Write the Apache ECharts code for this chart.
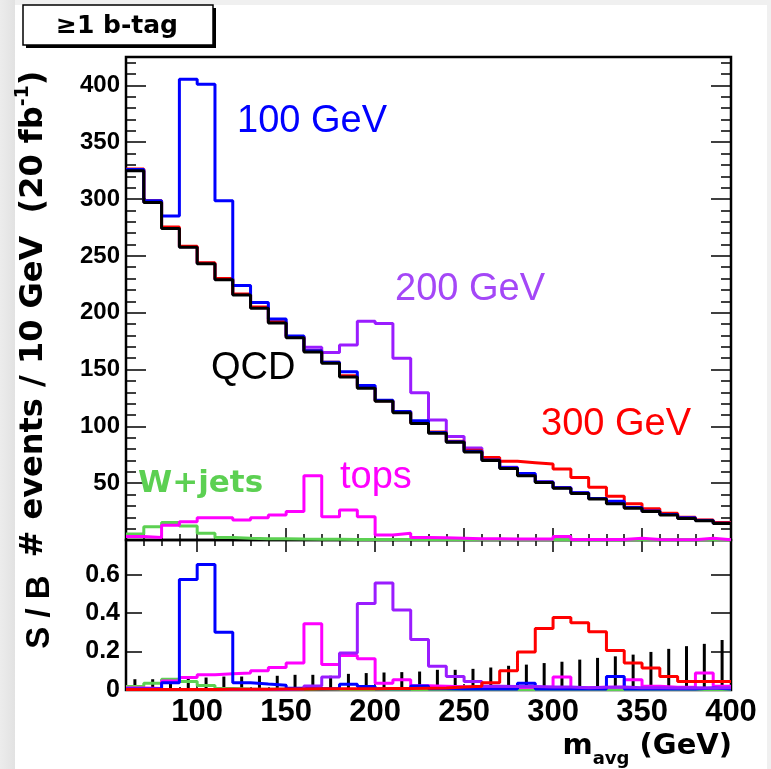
<html>
<head>
<meta charset="utf-8">
<script src="https://cdn.jsdelivr.net/npm/echarts@6/dist/echarts.min.js"></script>
</head>
<body style="margin:0;background:#e6e6e6">
    <div id="main" style="width:771px;height:769px;"></div>
</body>
<script>
    // bins of 10 GeV, 60 - 400
    var binLow = [60, 70, 80, 90, 100, 110, 120, 130, 140, 150, 160, 170, 180, 190, 200, 210, 220,
        230, 240, 250, 260, 270, 280, 290, 300, 310, 320, 330, 340, 350, 360, 370, 380, 390];
    var binCenter = [65, 75, 85, 95, 105, 115, 125, 135, 145, 155, 165, 175, 185, 195, 205, 215, 225,
        235, 245, 255, 265, 275, 285, 295, 305, 315, 325, 335, 345, 355, 365, 375, 385, 395];

    // top panel: events / 10 GeV
    var qcd = [325, 297, 274, 257.5, 243, 229, 215.5, 204, 191, 178, 165.5, 155.5, 143.5, 133.5, 122, 112, 102.5,
        94, 86, 77.5, 70, 63, 56.5, 50.5, 45.5, 41, 36, 32, 28, 25, 22, 19, 17, 14.5];
    var qcd100 = [326, 298.5, 285, 405.5, 401, 298.5, 224, 209, 194.5, 179.5, 166.5, 156.5, 148, 136, 123, 113, 105,
        94.5, 86.5, 78, 70.5, 63.5, 58.5, 51, 46, 41.5, 36.5, 34.2, 28.5, 25.5, 22.5, 19.5, 17.2, 14.7];
    var qcd200 = [325.3, 297.3, 274.5, 258, 243.5, 229.5, 216, 204.5, 191.5, 178.5, 169.5, 165, 171.5, 192.5, 190.5, 160, 129.5,
        105.5, 91, 81, 71, 64, 57.5, 51.3, 46.2, 41.6, 36.6, 32.5, 28.5, 25.4, 22.4, 19.4, 17.3, 14.8];
    var qcd300 = [326.5, 298.5, 275.5, 258.5, 244, 230, 216.5, 205, 192, 179, 166.5, 156.5, 144.5, 134.5, 122.5, 113, 103.5,
        95, 87, 79, 72.7, 69.2, 68, 66.8, 62.4, 55.1, 46.5, 38.5, 32, 27.6, 23.5, 20, 17.7, 15.3];
    var tops = [3, 2.3, 13, 16, 19.5, 19.5, 17.5, 19.5, 22, 25, 56.5, 20.5, 26.5, 20.5, 4.5, 6, 2.3,
        2, 1.5, 1, 1, 0.8, 0.8, 0.8, 3, 0.5, 0.5, 0.5, 1.5, 0.5, 0.3, 0.3, 1.5, 0.3];
    var wjets = [5.3, 11.7, 15.5, 12.3, 6, 2.3, 1.5, 1.2, 1, 0.8, 0.7, 0.6, 0.5, 0.5, 0.4, 0.4, 0.3,
        0.3, 0.3, 0.2, 0.2, 0.2, 0.2, 0.2, 0.1, 0.1, 0.1, 0.1, 0.1, 0.1, 0.1, 0.1, 0.1, 0.1];

    // bottom panel: S / B
    var sb100 = [0.005, 0.005, 0.038, 0.574, 0.653, 0.30, 0.038, 0.031, 0.025, 0.009, 0.006, 0.006, 0.03, 0.018, 0.006, 0.006, 0.021,
        0.006, 0.005, 0.005, 0.005, 0.005, 0.035, 0.005, 0.005, 0.005, 0.005, 0.07, 0.005, 0.005, 0.005, 0.005, 0.01, 0.005];
    var sb200 = [0.003, 0.003, 0.003, 0.003, 0.003, 0.003, 0.003, 0.003, 0.003, 0.005, 0.021, 0.067, 0.193, 0.45, 0.556, 0.416, 0.263,
        0.123, 0.07, 0.044, 0.02, 0.018, 0.018, 0.016, 0.016, 0.012, 0.014, 0.016, 0.012, 0.012, 0.01, 0.012, 0.01, 0.012];
    var sb300 = [0.002, 0.002, 0.003, 0.003, 0.003, 0.004, 0.004, 0.004, 0.005, 0.005, 0.006, 0.006, 0.007, 0.007, 0.008, 0.008, 0.009,
        0.01, 0.015, 0.02, 0.038, 0.1, 0.197, 0.32, 0.377, 0.35, 0.303, 0.205, 0.14, 0.114, 0.07, 0.044, 0.044, 0.044];
    var sbTops = [0.01, 0.008, 0.047, 0.065, 0.079, 0.084, 0.088, 0.1, 0.117, 0.14, 0.345, 0.132, 0.18, 0.163, 0.035, 0.053, 0.022,
        0.02, 0.017, 0.013, 0.014, 0.013, 0.014, 0.016, 0.067, 0.012, 0.014, 0.016, 0.053, 0.02, 0.014, 0.016, 0.088, 0.02];
    var sbW = [0.018, 0.035, 0.056, 0.044, 0.023, 0.008, 0.005, 0.004, 0.004, 0.004, 0.004, 0.003, 0.003, 0.003, 0.003, 0.003, 0.003,
        0.003, 0.003, 0.003, 0.003, 0.003, 0.003, 0.003, 0.003, 0.003, 0.003, 0.003, 0.003, 0.003, 0.003, 0.003, 0.003, 0.003];
    var sbErr = [0.056, 0.056, 0.06, 0.07, 0.065, 0.07, 0.07, 0.074, 0.074, 0.079, 0.079, 0.074, 0.084, 0.088, 0.091, 0.093, 0.096,
        0.105, 0.105, 0.11, 0.117, 0.126, 0.132, 0.14, 0.147, 0.158, 0.167, 0.175, 0.184, 0.198, 0.214, 0.228, 0.24, 0.26];

    var xLabels = [100, 150, 200, 250, 300, 350, 400];
    var yTopLabels = [50, 100, 150, 200, 250, 300, 350, 400];
    var yBotLabels = [0, 0.2, 0.4, 0.6];

    var purple = '#9a1cff';
    var green = '#5cd052';

    function steps(vals) {
        var pts = binLow.map(function (x, i) { return [x, vals[i]]; });
        pts.push([400, vals[vals.length - 1]]);
        return pts;
    }
    function range(a, b, s) {
        var r = [];
        for (var v = a; v <= b + 1e-9; v += s) r.push(Math.round(v * 1000) / 1000);
        return r;
    }

    var labelFont = { color: '#000', fontFamily: 'Liberation Sans', fontWeight: 'bold' };

    function xAx(grid, pos, ticks, len, labels) {
        return {
            type: 'value', gridIndex: grid, position: pos, min: 60, max: 400,
            axisLine: { show: false }, splitLine: { show: false },
            axisTick: { show: true, inside: true, length: len, customValues: ticks, lineStyle: { color: '#000', width: 1.5 } },
            axisLabel: labels ? Object.assign({ show: true, customValues: labels, fontSize: 31, margin: 7 }, labelFont) : { show: false }
        };
    }
    function yAx(grid, pos, max, ticks, len, labels, fs) {
        return {
            type: 'value', gridIndex: grid, position: pos, min: 0, max: max,
            axisLine: { show: false }, splitLine: { show: false },
            axisTick: { show: true, inside: true, length: len, customValues: ticks, lineStyle: { color: '#000', width: 1.5 } },
            axisLabel: labels ? Object.assign({ show: true, customValues: labels, fontSize: fs, margin: 6 }, labelFont) : { show: false }
        };
    }

    function hist(name, vals, color, xi, z, w) {
        return {
            name: name, type: 'line', step: 'end', xAxisIndex: xi, yAxisIndex: xi, z: z,
            data: steps(vals), showSymbol: false, animation: false, clip: true,
            lineStyle: { color: color, width: w || 3 }
        };
    }

    var chartDom = document.getElementById('main');
    var myChart = echarts.init(chartDom);
    var option;

    option = {
        animation: false,
        grid: [
            { left: 126, top: 57, width: 605, height: 483, show: true, borderColor: '#000', borderWidth: 2.5, backgroundColor: 'transparent' },
            { left: 126, top: 540, width: 605, height: 150, show: true, borderColor: '#000', borderWidth: 2.5, backgroundColor: 'transparent' }
        ],
        xAxis: [
            xAx(0, 'bottom', range(60, 400, 10), 6, null),
            xAx(1, 'bottom', range(60, 400, 10), 3, xLabels),
            xAx(0, 'bottom', xLabels, 12, null),
            xAx(0, 'top', range(60, 400, 10), 6, null),
            xAx(0, 'top', xLabels, 12, null),
            xAx(1, 'bottom', xLabels, 6, null),
            xAx(1, 'top', range(60, 400, 10), 3, null),
            xAx(1, 'top', xLabels, 6, null)
        ],
        yAxis: [
            yAx(0, 'left', 425, range(0, 420, 10), 10, null),
            yAx(1, 'left', 0.78, yBotLabels, 16, yBotLabels, 25),
            yAx(0, 'left', 425, yTopLabels, 20, yTopLabels, 24),
            yAx(0, 'right', 425, range(0, 420, 10), 10, null),
            yAx(0, 'right', 425, yTopLabels, 20, null),
            yAx(1, 'right', 0.78, yBotLabels, 20, null)
        ],
        series: [
            hist('200 GeV', qcd200, purple, 0, 2),
            hist('300 GeV', qcd300, '#ff0000', 0, 3),
            hist('100 GeV', qcd100, '#0000ff', 0, 4),
            hist('W+jets', wjets, green, 0, 5),
            hist('tops', tops, '#ff00ff', 0, 6),
            hist('QCD', qcd, '#000000', 0, 7),
            {
                name: 'err', type: 'bar', xAxisIndex: 1, yAxisIndex: 1, barWidth: 3, z: 1,
                data: binCenter.map(function (x, i) { return [x, sbErr[i]]; }),
                itemStyle: { color: '#000' }, animation: false
            },
            hist('W+jets S/B', sbW, green, 1, 2),
            hist('tops S/B', sbTops, '#ff00ff', 1, 3),
            hist('100 S/B', sb100, '#0000ff', 1, 4),
            hist('200 S/B', sb200, purple, 1, 5),
            hist('300 S/B', sb300, '#ff0000', 1, 6)
        ],
        graphic: [
            { type: 'rect', z: -10, shape: { x: 0, y: 0, width: 771, height: 769 }, style: { fill: '#f0f0f0' }, silent: true },
            {
                type: 'rect', z: -9, shape: { x: 0, y: 0, width: 15, height: 769 }, silent: true,
                style: { fill: new echarts.graphic.LinearGradient(0, 0, 1, 0, [{ offset: 0, color: '#ececec' }, { offset: 1, color: '#e2e2e2' }]) }
            },
            { type: 'rect', z: -8, shape: { x: 15, y: 5, width: 752, height: 764 }, style: { fill: '#ffffff' }, silent: true },
            // b-tag box with shadow
            { type: 'rect', z: 10, shape: { x: 26, y: 8, width: 190, height: 40 }, style: { fill: '#000' }, silent: true },
            { type: 'rect', z: 11, shape: { x: 23, y: 5, width: 190, height: 40 }, style: { fill: '#fff', stroke: '#000', lineWidth: 1.5 }, silent: true },
            { type: 'text', z: 12, x: 117, y: 26, style: { text: '≥1 b-tag', font: 'bold 25px "DejaVu Sans"', fill: '#000', align: 'center', verticalAlign: 'middle' } },
            // annotations
            { type: 'text', z: 12, x: 237, y: 122, style: { text: '100 GeV', font: '38px "Liberation Sans"', fill: '#0000ff', align: 'left', verticalAlign: 'middle' } },
            { type: 'text', z: 12, x: 395, y: 290, style: { text: '200 GeV', font: '38px "Liberation Sans"', fill: '#a447f7', align: 'left', verticalAlign: 'middle' } },
            { type: 'text', z: 12, x: 211, y: 369, style: { text: 'QCD', font: '38px "Liberation Sans"', fill: '#000', align: 'left', verticalAlign: 'middle' } },
            { type: 'text', z: 12, x: 541, y: 425, style: { text: '300 GeV', font: '38px "Liberation Sans"', fill: '#ff0000', align: 'left', verticalAlign: 'middle' } },
            { type: 'text', z: 12, x: 138, y: 484, style: { text: 'W+jets', font: 'bold 31px "DejaVu Sans"', fill: green, align: 'left', verticalAlign: 'middle' } },
            { type: 'text', z: 12, x: 340, y: 478, style: { text: 'tops', font: '38px "Liberation Sans"', fill: '#ff00ff', align: 'left', verticalAlign: 'middle' } },
            // axis titles
            {
                type: 'text', z: 12, x: 32, y: 314, rotation: Math.PI / 2,
                style: {
                    text: '{a|# events / 10 GeV  (20 fb}{s|-1}{a|)}', align: 'center', verticalAlign: 'middle',
                    rich: {
                        a: { font: 'bold 32px "DejaVu Sans"', fill: '#000', lineHeight: 36, verticalAlign: 'bottom' },
                        s: { font: 'bold 19px "DejaVu Sans"', fill: '#000', lineHeight: 36, verticalAlign: 'top' }
                    }
                }
            },
            { type: 'text', z: 12, x: 40, y: 612, rotation: Math.PI / 2, style: { text: 'S / B', font: 'bold 33px "Liberation Sans"', fill: '#000', align: 'center', verticalAlign: 'middle' } },
            {
                type: 'text', z: 12, x: 732, y: 750,
                style: {
                    text: '{m|m}{s|avg}{m| (GeV)}', align: 'right', verticalAlign: 'middle',
                    rich: {
                        m: { font: 'bold 29px "DejaVu Sans"', fill: '#000', lineHeight: 36, verticalAlign: 'top' },
                        s: { font: 'bold 18px "DejaVu Sans"', fill: '#000', lineHeight: 36, verticalAlign: 'bottom' }
                    }
                }
            }
        ]
    };

    option && myChart.setOption(option);
</script>
</html>
